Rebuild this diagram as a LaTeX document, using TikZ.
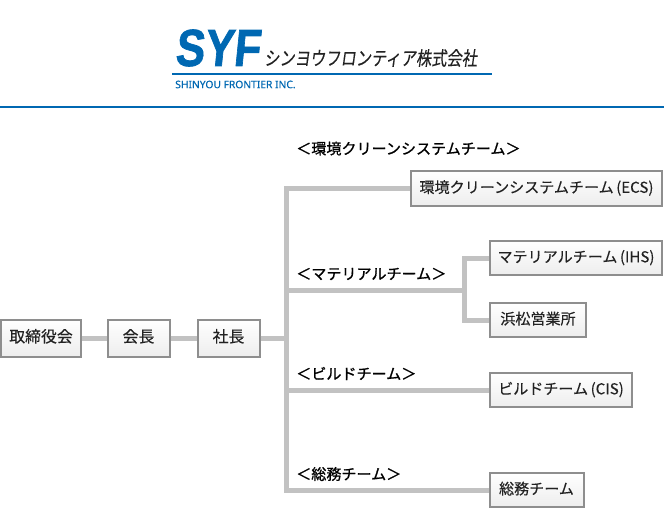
\documentclass[tikz,border=0pt]{standalone}
\usepackage{fontspec}
\setmainfont{Noto Sans CJK JP}
\newfontfamily\logofont{Liberation Sans}[BoldFeatures={FakeBold=1.5}]
\newfontface\enfont{Noto Sans}[FakeBold=0.5]
\newfontface\labfont{Noto Sans CJK JP}[FakeBold=1]
\newfontface\boxfont{Noto Sans CJK JP}[FakeBold=0.2]
\usetikzlibrary{calc}
\definecolor{syfblue}{HTML}{0068B2}
\definecolor{boxedge}{HTML}{8E8E8E}
\definecolor{linkgrey}{HTML}{C2C2C2}
\definecolor{txt}{HTML}{222222}
\tikzset{
  x=0.75pt,y=-0.75pt,
  orgbox/.style={draw=boxedge,line width=1.5pt,top color=white,bottom color=black!7,
    inner sep=0pt,text=txt,text height=6.5pt,text depth=0pt,
    font=\boxfont\fontsize{11.3pt}{13pt}\selectfont,anchor=center},
  topbox/.style={orgbox,font=\boxfont\fontsize{11.9pt}{13pt}\selectfont},
  link/.style={draw=linkgrey,line width=3.75pt},
  teamlabel/.style={anchor=west,inner sep=0pt,text=black,font=\labfont\fontsize{11.3pt}{13pt}\selectfont},
}
\begin{document}
\begin{tikzpicture}
\useasboundingbox (0,0) rectangle (664,510);
% header
\node[anchor=center,inner sep=0pt,text=syfblue,font=\logofont\bfseries\fontsize{39pt}{40pt}\selectfont,xscale=0.84,xslant=0.12,transform shape] (syf) at (219,48) {SYF};
\node[anchor=west,inner sep=0pt,text=txt,font=\boxfont\fontsize{14.5pt}{16pt}\selectfont,xscale=0.79,xslant=0.18,transform shape] (jp) at (265,58) {シンヨウフロンティア株式会社};
\coordinate (la) at (172,74.5);
\coordinate (lb) at (492,74.5);
\draw[syfblue,line width=1.5pt] (la) -- (lb);
\node[anchor=west,inner sep=0pt,text=syfblue,font=\enfont\fontsize{7.7pt}{9pt}\selectfont] (en) at (175,84.5) {SHINYOU FRONTIER INC.};
\coordinate (ra) at (0,107.5);
\coordinate (rb) at (664,107.5);
\draw[syfblue,line width=1.5pt] (ra) -- (rb);
% boxes
\node[topbox,minimum width=60.5pt,minimum height=27.75pt] (board) at (41,338) {取締役会};
\node[topbox,minimum width=46.5pt,minimum height=27.75pt] (chair) at (138.5,338) {会長};
\node[topbox,minimum width=46.5pt,minimum height=27.75pt] (pres) at (228.5,338) {社長};
\node[orgbox,minimum width=188.25pt,minimum height=26.25pt] (ecs) at (536.5,188.5) {環境クリーンシステムチーム\,(ECS)};
\node[orgbox,minimum width=129pt,minimum height=25.5pt] (ihs) at (576,258) {マテリアルチーム\,(IHS)};
\node[orgbox,minimum width=72pt,minimum height=25.5pt] (hama) at (538,320) {浜松営業所};
\node[orgbox,minimum width=106.5pt,minimum height=25.5pt] (cis) at (561,390) {ビルドチーム\,(CIS)};
\node[orgbox,minimum width=70.5pt,minimum height=25.5pt] (soumu) at (536.5,490) {総務チーム};
% labels
\node[teamlabel] (l1) at (296,148.5) {＜環境クリーンシステムチーム＞};
\node[teamlabel] (l2) at (296,274) {＜マテリアルチーム＞};
\node[teamlabel] (l3) at (296,373.5) {＜ビルドチーム＞};
\node[teamlabel] (l4) at (296,474) {＜総務チーム＞};
% junctions
\coordinate (tTop) at (286.5,188.5);
\coordinate (tPres) at (286.5,338);
\coordinate (tMat) at (286.5,290);
\coordinate (tCis) at (286.5,390);
\coordinate (tBot) at (286.5,490);
\coordinate (sMid) at (464,290);
\coordinate (sTop) at (464,258);
\coordinate (sBot) at (464,320);
% connectors
\draw[link] (board) -- (chair);
\draw[link] (chair) -- (pres);
\draw[link] (pres) -- (tPres);
\draw[link,line join=miter] (ecs) -- (tTop) -- (tBot) -- (soumu);
\draw[link] (tMat) -- (sMid);
\draw[link] (tCis) -- (cis);
\draw[link,line join=miter] (ihs) -- (sTop) -- (sBot) -- (hama);
\end{tikzpicture}
\end{document}
